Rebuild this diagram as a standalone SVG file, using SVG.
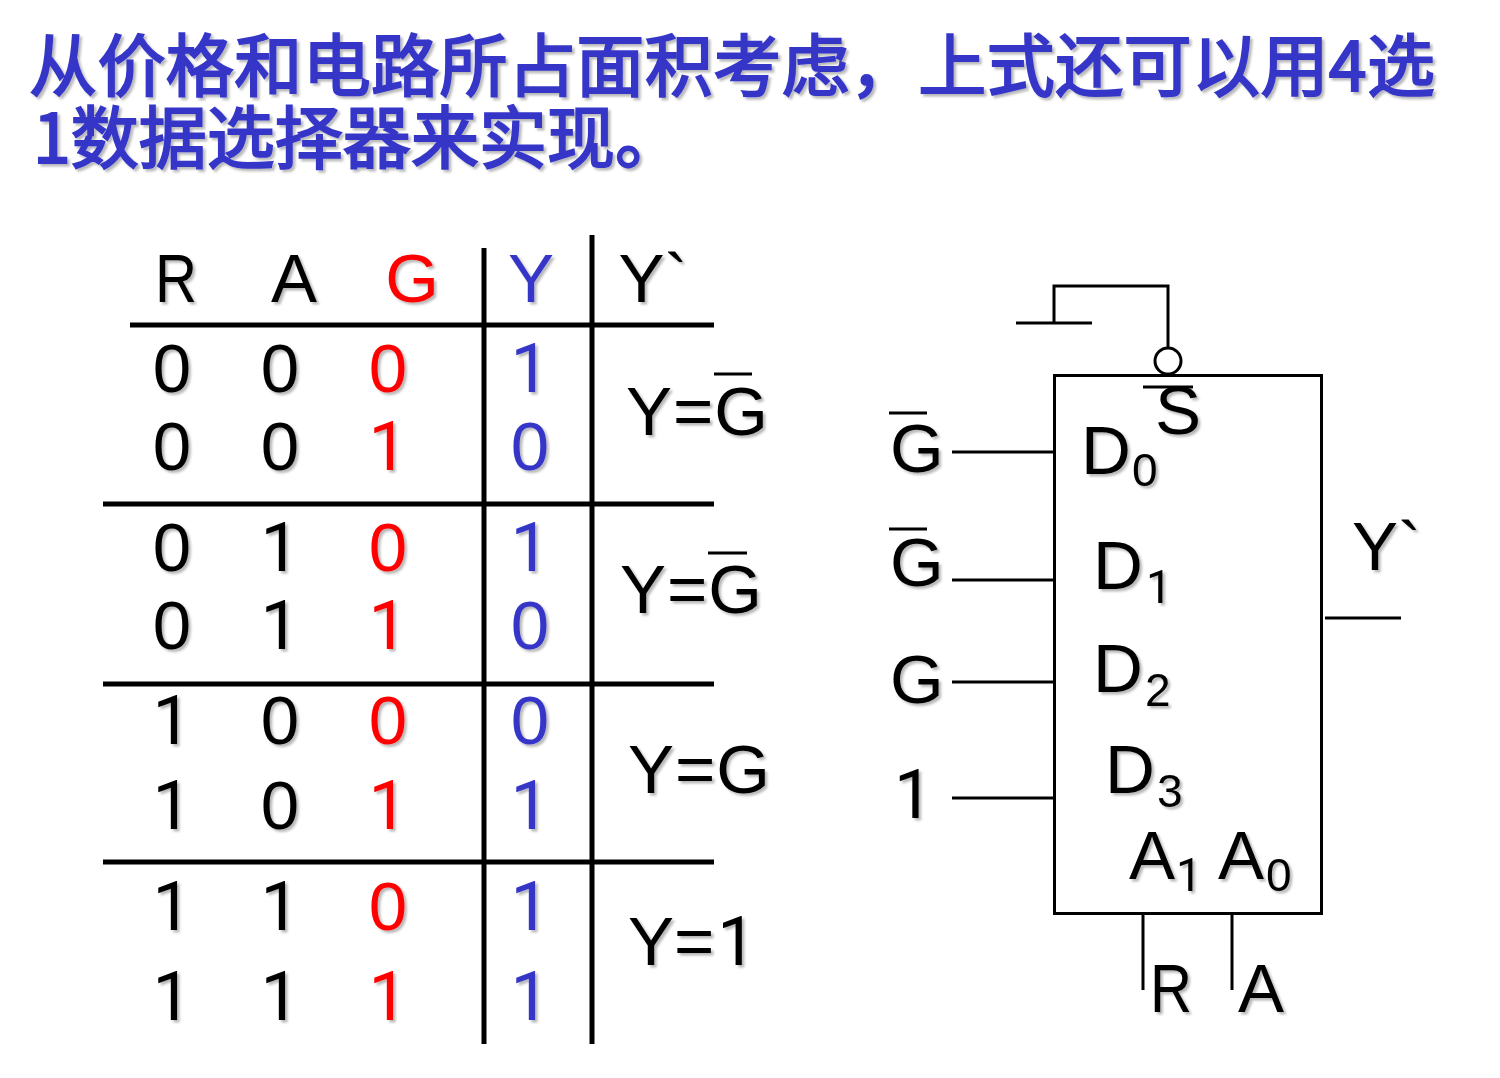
<svg xmlns="http://www.w3.org/2000/svg" width="1500" height="1078" viewBox="0 0 1500 1078">
<defs>
<filter id="sh" x="-10%" y="-10%" width="120%" height="125%"><feDropShadow dx="2.5" dy="2.5" stdDeviation="1.2" flood-color="#000" flood-opacity="0.28"/></filter>
</defs>
<style>
text{font-family:"Liberation Sans","Noto Sans CJK SC",sans-serif;font-size:69px;fill:#000}
.title{font-family:"Noto Sans CJK SC",sans-serif;font-weight:400;font-size:68px;fill:#3636c8;stroke:#3636c8;stroke-width:2}
.t{filter:url(#sh)}
.r{fill:#f00}.b{fill:#3636c8}
.sub{font-size:46px}
.m{text-anchor:middle}
.o{font-family:Roboto,sans-serif}
.hv{stroke:#000;stroke-width:5;fill:none}
.th{stroke:#000;stroke-width:3;fill:none}
</style>
<rect width="1500" height="1078" fill="#fff"/>
<g id="title" class="t">
<text class="title" x="29" y="91" textLength="1406" lengthAdjust="spacing">从价格和电路所占面积考虑，上式还可以用4选</text>
<text class="title" x="33" y="163" textLength="650" lengthAdjust="spacing">1数据选择器来实现。</text>
</g>
<g id="truth-table">
<g class="hv">
<path d="M484 248V1044M592 235V1044M130 325H714M103 504H714M103 684H714M103 862H714"/>
</g>
<g id="table-text" class="t">
<g class="m">
<text x="176" y="302" textLength="42" lengthAdjust="spacingAndGlyphs">R</text><text x="294" y="302">A</text><text x="412" y="302" class="r">G</text><text x="531" y="302" class="b">Y</text><text x="653" y="302">Y`</text>
<text x="172" y="392">0</text><text x="280" y="392">0</text><text x="388" y="392" class="r">0</text><text x="530" y="392" class="b o">1</text>
<text x="172" y="470">0</text><text x="280" y="470">0</text><text x="388" y="470" class="r o">1</text><text x="530" y="470" class="b">0</text>
<text x="172" y="571">0</text><text x="280" y="571" class="o">1</text><text x="388" y="571" class="r">0</text><text x="530" y="571" class="b o">1</text>
<text x="172" y="649">0</text><text x="280" y="649" class="o">1</text><text x="388" y="649" class="r o">1</text><text x="530" y="649" class="b">0</text>
<text x="172" y="744" class="o">1</text><text x="280" y="744">0</text><text x="388" y="744" class="r">0</text><text x="530" y="744" class="b">0</text>
<text x="172" y="829" class="o">1</text><text x="280" y="829">0</text><text x="388" y="829" class="r o">1</text><text x="530" y="829" class="b o">1</text>
<text x="172" y="930" class="o">1</text><text x="280" y="930" class="o">1</text><text x="388" y="930" class="r">0</text><text x="530" y="930" class="b o">1</text>
<text x="172" y="1020" class="o">1</text><text x="280" y="1020" class="o">1</text><text x="388" y="1020" class="r o">1</text><text x="530" y="1020" class="b o">1</text>
</g>
<text x="626" y="435" textLength="142">Y=G</text>
<text x="620" y="613" textLength="142">Y=G</text>
<text x="628" y="793" textLength="142">Y=G</text>
<text x="628" y="965">Y=<tspan class="o" dx="3">1</tspan></text>
</g>
<path class="th" d="M714 374H752M708 553H747"/>
</g>
<g id="connectors" class="th">
<path d="M1016 323H1092M1054 323V286H1168V349"/>
<path d="M952 452H1054M952 580H1054M952 682H1054M952 798H1054"/>
<path d="M1325 618H1401M1143 914V990M1232 914V990"/>
</g>
<g id="mux">
<rect class="th" x="1054.500" y="375.500" width="267" height="538" />
<circle class="th" cx="1168" cy="361" r="13" fill="#fff"/>
<path class="th" d="M1143 387H1193"/>
<g class="t">
<text x="1155" y="434">S</text>
<text x="1081" y="474">D</text><text class="sub" x="1132" y="486">0</text>
<text x="1093" y="589">D</text><text class="sub o" x="1146" y="603">1</text>
<text x="1093" y="692">D</text><text class="sub" x="1145" y="706">2</text>
<text x="1105" y="793">D</text><text class="sub" x="1157" y="807">3</text>
<text x="1129" y="879">A</text><text class="sub o" x="1176" y="891">1</text>
<text x="1218" y="879">A</text><text class="sub" x="1266" y="891">0</text>
</g>
</g>
<g id="inputs" class="t">
<text x="890" y="472">G</text>
<text x="890" y="586">G</text>
<text x="890" y="703">G</text>
<text x="894" y="818" class="o">1</text>
<text x="1352" y="570">Y`</text>
<text x="1150" y="1012" textLength="42" lengthAdjust="spacingAndGlyphs">R</text>
<text x="1238" y="1012">A</text>
</g>
<path class="th" d="M889 413H927M889 529H927"/>
</svg>
